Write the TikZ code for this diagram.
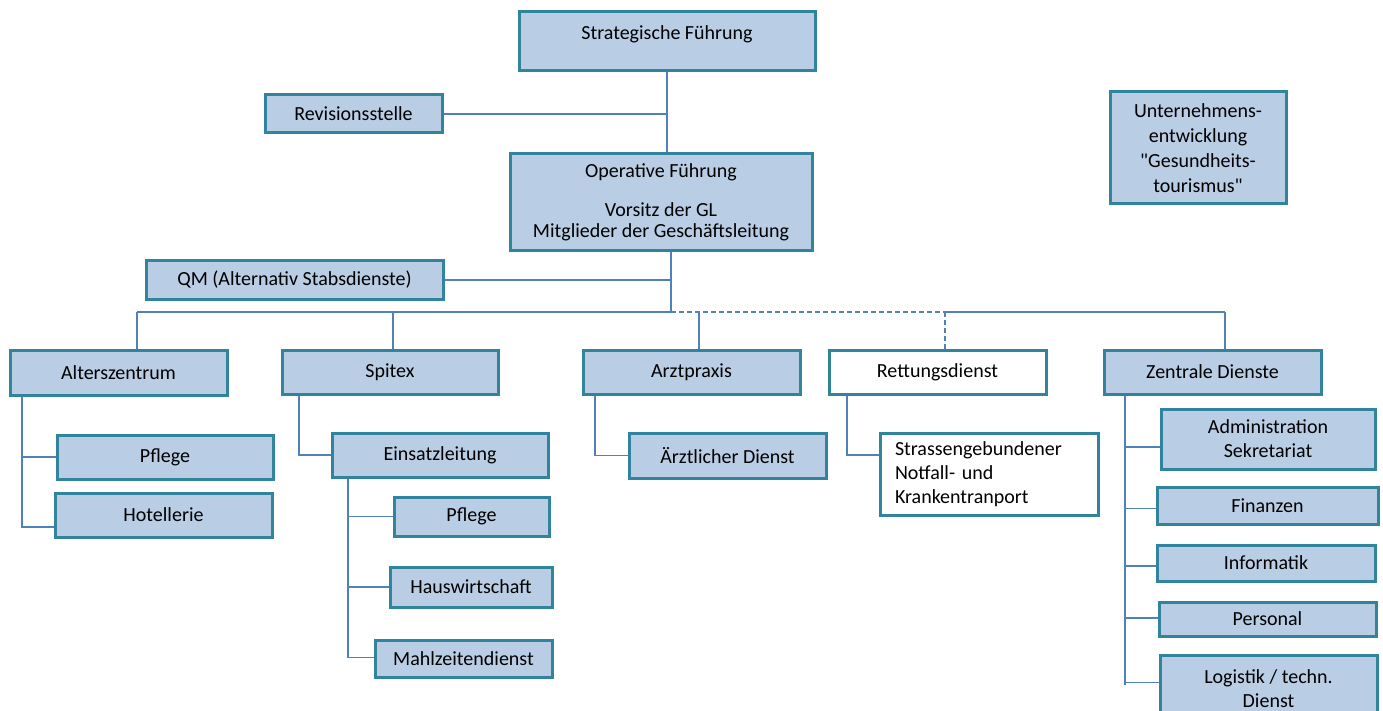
\documentclass[tikz,border=0pt]{standalone}
\usepackage{fontspec}
\setmainfont{Carlito}
\newfontfamily\quotefont{Carlito}[Ligatures=TeXOff]
\usetikzlibrary{positioning}
\definecolor{boxfill}{HTML}{B9CDE5}
\definecolor{boxline}{HTML}{31849B}
\definecolor{linkcol}{HTML}{4F81BD}

\begin{document}
\begin{tikzpicture}[x=1pt, y=-1pt,
    unit/.style={draw=boxline, line width=3pt, fill=boxfill, inner sep=0pt,
      align=center, text=black, font=\fontsize{20}{24}\selectfont},
    extunit/.style={unit, fill=white},
    link/.style={draw=linkcol, line width=1.1pt},
    dlink/.style={link, dash pattern=on 5pt off 3pt}]
    \useasboundingbox (0,0) rectangle (1383,711);

    % Leitung
    \node[unit, minimum width=296pt, minimum height=59pt] (strat) at (667,41.5) {Strategische Führung\\[-6pt]~};
    \node[unit, minimum width=177pt, minimum height=38pt] (rev) at (353.5,114) {Revisionsstelle};
    \node[unit, minimum width=302pt, minimum height=97pt] (oper) at (661,202.5)
      {Operative Führung\\[15pt]Vorsitz der GL\\[-3pt]Mitglieder der Geschäftsleitung};
    \node[unit, minimum width=176pt, minimum height=112pt] (unt) at (1198,148)
      {Unternehmens-\\[1pt]entwicklung\\[1pt]{\quotefont"}Gesundheits-\\[1pt]tourismus{\quotefont"}};
    \node[unit, minimum width=297pt, minimum height=38pt] (qm) at (294.5,280) {QM (Alternativ Stabsdienste)};

    % Bereiche
    \node[unit, minimum width=217pt, minimum height=45pt] (alt) at (118.5,372.5) {Alterszentrum};
    \node[unit, minimum width=216pt, minimum height=44pt] (spi) at (390,372) {Spitex};
    \node[unit, minimum width=217pt, minimum height=44pt] (arzt) at (691.5,372) {Arztpraxis};
    \node[extunit, minimum width=217pt, minimum height=44pt] (rett) at (937.5,372) {Rettungsdienst};
    \node[unit, minimum width=217pt, minimum height=44pt] (zd) at (1212.5,372) {Zentrale Dienste};

    % Abteilungen
    \node[unit, minimum width=216pt, minimum height=44pt] (pflA) at (165,457) {Pflege};
    \node[unit, minimum width=217pt, minimum height=44pt] (hotel) at (163.5,515) {Hotellerie};
    \node[unit, minimum width=216pt, minimum height=44pt] (einsatz) at (440,455) {Einsatzleitung};
    \node[unit, minimum width=155pt, minimum height=39pt] (pflS) at (471.5,516.5) {Pflege};
    \node[unit, minimum width=162pt, minimum height=40pt] (haus) at (471,587) {Hauswirtschaft};
    \node[unit, minimum width=177pt, minimum height=37pt] (mahl) at (463.5,658.5) {Mahlzeitendienst};
    \node[unit, minimum width=197pt, minimum height=45pt] (aerzt) at (727.5,455.5) {Ärztlicher Dienst};
    \node[extunit, minimum height=82pt, text width=188pt, inner xsep=15pt, align=left] (strass) at (989,474)
      {Strassengebundener\\Notfall- und\\Krankentranport};
    \node[unit, minimum width=214pt, minimum height=60pt] (admin) at (1268,439) {Administration\\Sekretariat};
    \node[unit, minimum width=221pt, minimum height=37pt] (fin) at (1267.5,505.5) {Finanzen};
    \node[unit, minimum width=218pt, minimum height=36pt] (inf) at (1266,563) {Informatik};
    \node[unit, minimum width=217pt, minimum height=34pt] (pers) at (1267.5,619) {Personal};
    \node[unit, minimum width=217pt, minimum height=67pt] (logi) at (1268.5,688.5) {Logistik / techn.\\Dienst};

    % Linien
    \coordinate (busL) at (137,312);
    \coordinate (busS) at (393,312);
    \coordinate (busM) at (671,312);
    \coordinate (busA) at (699,312);
    \coordinate (busD) at (945,312);
    \coordinate (busR) at (1225,312);

    \draw[link] (strat.south) -- (strat.south |- oper.north);
    \draw[link] (rev.east) -- (rev.east -| strat.south);
    \draw[link] (busM |- oper.south) -- (busM);
    \draw[link] (qm.east) -- (qm.east -| busM);
    \draw[link] (busL) -- (busM) (busD) -- (busR);
    \draw[dlink] (busM) -- (busD);
    \foreach \c/\n in {busL/alt, busS/spi, busA/arzt, busR/zd}
      \draw[link] (\c) -- (\c |- \n.north);
    \draw[dlink] (busD) -- (busD |- rett.north);

    \coordinate (tA) at (22,0);
    \coordinate (tS) at (299,0);
    \coordinate (tE) at (348,0);
    \coordinate (tZ) at (595,0);
    \coordinate (tR) at (847,0);
    \coordinate (tD) at (1125,0);
    \coordinate (tDend) at (1125,685);

    \draw[link] (alt.south -| tA) |- ([yshift=-12pt]hotel.west);
    \draw[link] (tA |- pflA.west) -- (pflA.west);
    \draw[link] (spi.south -| tS) |- (einsatz.west);
    \draw[link] (einsatz.south -| tE) |- ([yshift=1pt]mahl.west);
    \foreach \n in {pflS, haus}
      \draw[link] (tE |- \n.west) -- (\n.west);
    \draw[link] (arzt.south -| tZ) |- (aerzt.west);
    \draw[link] (rett.south -| tR) |- ([yshift=19pt]strass.west);
    \draw[link] (zd.south -| tD) -- (tDend);
    \foreach \n/\s in {admin/-8, fin/-3, inf/-3, pers/1, logi/6} {
      \path ([yshift=\s pt]\n.west) coordinate (h);
      \draw[link] (h -| tD) -- (h);
    }
\end{tikzpicture}
\end{document}
